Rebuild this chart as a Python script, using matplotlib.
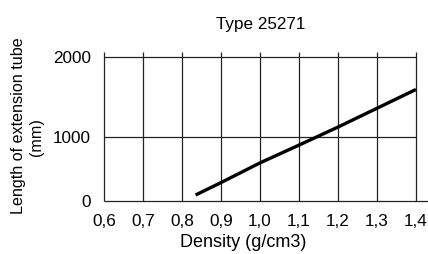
import numpy as np
import matplotlib
matplotlib.use("Agg")
import matplotlib.pyplot as plt

plt.rcParams['font.family'] = ['Liberation Sans', 'DejaVu Sans']

# curve
density = [0.835, 0.9, 1.0, 1.1, 1.2, 1.3, 1.4]
tube_length = [95, 290, 600, 880, 1130, 1365, 1600]

x_ticks = [0.6, 0.7, 0.8, 0.9, 1.0, 1.1, 1.2, 1.3, 1.4]
x_tick_labels = ['0,6', '0,7', '0,8', '0,9', '1,0', '1,1', '1,2', '1,3', '1,4']
y_ticks = [0, 1000, 2000]
y_tick_labels = ['0', '1000', '2000']


# the original sheet has uneven spacing between 0-1000 and 1000-2000
def fwd(v):
    v = np.asarray(v, float)
    return np.where(v <= 1000, v * 0.0635, 63.5 + (v - 1000) * 0.08)


def inv(p):
    p = np.asarray(p, float)
    return np.where(p <= 63.5, p / 0.0635, 1000 + (p - 63.5) / 0.08)


fig = plt.figure(figsize=(4.28, 2.54), dpi=100)
ax = fig.add_axes([104 / 428, 53 / 254, 324 / 428, 149 / 254])
ax.set_yscale('function', functions=(fwd, inv))
ax.set_xlim(0.6, 1.4308)
ax.set_ylim(0, 2068)

grid_col = '#222222'
ax.vlines(x_ticks, 0, 2068, colors=grid_col, lw=0.9, clip_on=False)
ax.hlines(y_ticks[1:], x_ticks[0], x_ticks[-1], colors=grid_col, lw=0.9, clip_on=False)
ax.hlines(0, x_ticks[0], 1.4308, colors=grid_col, lw=0.9, clip_on=False)

ax.plot(density, tube_length, color='black', lw=2.4, solid_capstyle='butt')

for s in ax.spines.values():
    s.set_visible(False)
ax.set_xticks(x_ticks)
ax.set_xticklabels(x_tick_labels)
ax.set_yticks(y_ticks)
ax.set_yticklabels(y_tick_labels)
ax.yaxis.set_minor_locator(matplotlib.ticker.NullLocator())
ax.tick_params(axis='x', length=0, pad=9.4, labelsize=12.3)
ax.tick_params(axis='y', length=0, pad=9.4, labelsize=12.3)

fig.text(261 / 428, 1 - 29 / 254, 'Type 25271', ha='center', va='baseline', fontsize=12.3)
fig.text(243 / 428, 1 - 247 / 254, 'Density (g/cm3)', ha='center', va='baseline', fontsize=13)
fig.text(23 / 428, 1 - 126 / 254, 'Length of extension tube', rotation=90,
         rotation_mode='anchor', ha='center', va='baseline', fontsize=11.6)
fig.text(41 / 428, 1 - 137 / 254, '(mm)', rotation=90,
         rotation_mode='anchor', ha='center', va='baseline', fontsize=11.6)

fig.savefig('out.png', dpi=100)
